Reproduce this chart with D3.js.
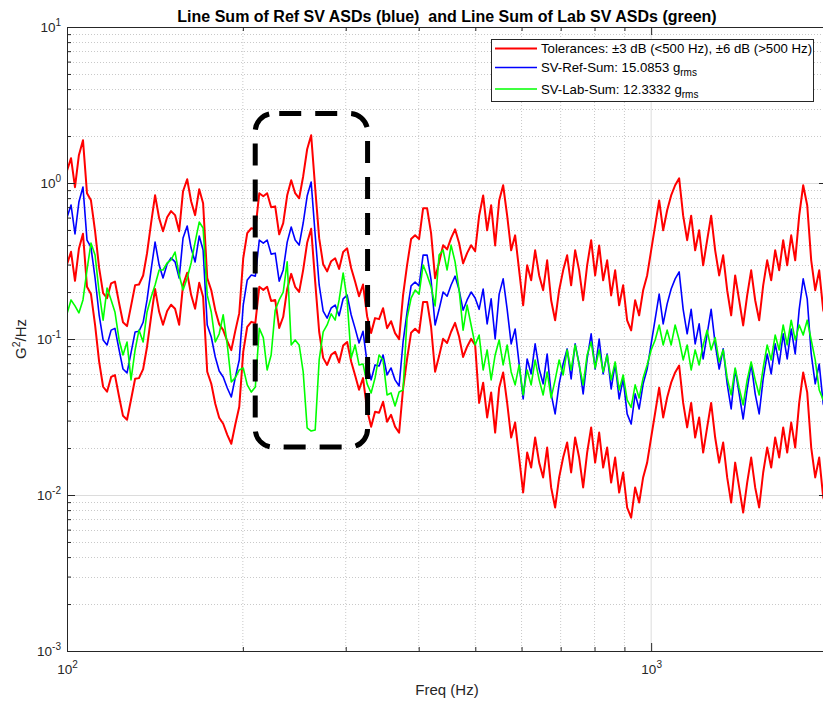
<!DOCTYPE html>
<html><head><meta charset="utf-8">
<script src="https://cdn.jsdelivr.net/npm/d3@7"></script>
<style>
body{margin:0;background:#fff;}
svg{display:block;font-family:"Liberation Sans",Arial,Helvetica,sans-serif;}
text{white-space:pre;}
</style>
</head><body><svg id="chart" width="823" height="701"></svg>
<script>
// ---- data ----
const freq = [
 100,101.6,103.2,104.8,106.5,108.2,109.9,111.7,113.5,115.3,
 117.1,119.0,120.8,122.8,124.7,126.7,128.7,130.8,132.8,135.0,
 137.1,139.3,141.5,143.8,146.0,148.4,150.7,153.1,155.6,158.0,
 160.6,163.1,165.7,168.4,171.0,173.8,176.6,179.4,182.2,185.1,
 188.1,191.1,194.1,197.2,200.3,203.5,206.8,210.1,213.4,216.8,
 220.1,223.6,227.2,230.8,234.5,238.2,242.0,245.8,249.7,253.7,
 257.7,261.8,266.0,270.2,274.5,278.8,283.3,287.8,292.3,297.0,
 301.7,306.5,311.3,316.2,321.2,326.4,331.6,336.8,342.2,347.6,
 353.1,358.7,364.4,370.3,376.1,382.1,388.2,394.4,400.6,407.0,
 413.5,420.0,426.7,433.5,440.4,447.4,454.5,461.7,469.1,476.5,
 484.1,491.8,499.7,507.6,515.7,523.9,532.2,540.7,549.3,558.0,
 566.9,575.9,585.0,594.3,603.8,613.4,623.1,633.0,643.1,653.3,
 663.7,674.2,684.9,695.8,706.9,718.1,729.5,741.1,752.9,764.9,
 777.0,789.4,801.9,814.7,827.6,840.8,854.1,867.7,881.5,895.5,
 909.7,924.2,938.9,953.8,968.9,984.3,1000,1015.9,1032.1,1048.5,
 1065.1,1082.0,1099.2,1116.7,1134.5,1152.5,1170.8,1189.4,1208.3,1227.5,
 1247.0,1266.8,1287.0,1307.5,1328.3,1349.4,1370.8,1392.6,1414.7,1437.2,
 1460.1,1483.3,1506.9,1530.8,1555.2,1579.9,1605.0,1630.5,1656.5,1682.8,
 1709.6,1736.8,1764.4,1792.4,1820.9,1849.9,1879.3,1909.2,1939.5,1970.4,
 2000
];
const refSum = [
 0.60,0.723,0.471,0.755,0.943,0.431,0.388,0.246,0.143,0.0986,
 0.0916,0.114,0.117,0.0851,0.0642,0.0606,0.0814,0.111,0.112,0.128,
 0.178,0.277,0.418,0.298,0.246,0.302,0.331,0.312,0.246,0.444,
 0.530,0.383,0.312,0.457,0.372,0.123,0.103,0.0767,0.0624,0.0571,
 0.0485,0.0425,0.0563,0.0734,0.165,0.239,0.257,0.253,0.431,0.412,
 0.431,0.350,0.355,0.235,0.277,0.418,0.522,0.431,0.400,0.554,
 0.825,1.015,0.464,0.222,0.151,0.136,0.158,0.165,0.141,0.181,
 0.191,0.143,0.117,0.0943,0.112,0.0702,0.0547,0.0682,0.0672,0.079,
 0.0588,0.0652,0.0547,0.0500,0.0957,0.149,0.219,0.232,0.219,0.345,
 0.345,0.239,0.123,0.155,0.200,0.188,0.222,0.253,0.206,0.153,
 0.178,0.200,0.183,0.155,0.209,0.125,0.181,0.100,0.194,0.243,
 0.155,0.093,0.116,0.0692,0.0413,0.0745,0.0597,0.093,0.0642,0.0516,
 0.0802,0.0445,0.0331,0.0516,0.0692,0.0864,0.0555,0.093,0.0692,0.0445,
 0.0745,0.108,0.0642,0.100,0.0597,0.0802,0.0478,0.0692,0.0413,0.0555,
 0.0331,0.0285,0.0445,0.0356,0.0516,0.0642,0.093,0.134,0.194,0.125,
 0.168,0.209,0.243,0.269,0.155,0.108,0.155,0.093,0.125,0.0745,
 0.108,0.155,0.093,0.0642,0.0864,0.0516,0.0356,0.0642,0.0445,0.0307,
 0.0478,0.0692,0.0445,0.0331,0.0555,0.0802,0.0597,0.093,0.0692,0.108,
 0.0745,0.116,0.0802,0.155,0.243,0.181,0.0802,0.0516,0.0692,0.0384,
 0.0331
];
const labSum = [
 0.145,0.178,0.163,0.147,0.178,0.277,0.412,0.345,0.200,0.132,
 0.212,0.178,0.149,0.0986,0.079,0.0957,0.0547,0.0851,0.114,0.0957,
 0.149,0.185,0.222,0.277,0.277,0.307,0.321,0.361,0.257,0.206,
 0.246,0.307,0.418,0.562,0.515,0.191,0.149,0.0957,0.108,0.143,
 0.0916,0.0531,0.0563,0.0633,0.0652,0.0508,0.0457,0.0493,0.117,0.102,
 0.0633,0.079,0.153,0.178,0.200,0.312,0.0916,0.0986,0.0916,0.0615,
 0.0269,0.0257,0.0261,0.0734,0.111,0.123,0.145,0.132,0.178,0.265,
 0.178,0.0756,0.0916,0.0682,0.0692,0.0516,0.0451,0.0563,0.079,0.0734,
 0.0438,0.0451,0.0372,0.0457,0.0471,0.136,0.183,0.206,0.194,0.298,
 0.257,0.216,0.163,0.345,0.372,0.277,0.400,0.312,0.206,0.114,
 0.165,0.123,0.0916,0.106,0.0633,0.0851,0.0547,0.079,0.0986,0.0682,
 0.0916,0.0615,0.0508,0.0682,0.0438,0.0633,0.0508,0.0734,0.0547,0.0438,
 0.0615,0.0419,0.0547,0.0734,0.0588,0.0851,0.0633,0.0916,0.0682,0.0508,
 0.079,0.0957,0.0652,0.0851,0.0615,0.079,0.0547,0.0713,0.0471,0.0588,
 0.0407,0.0364,0.0508,0.0419,0.0563,0.0682,0.0851,0.0986,0.123,0.0916,
 0.114,0.0916,0.123,0.0986,0.0734,0.0916,0.0633,0.0851,0.0682,0.0916,
 0.114,0.0851,0.102,0.0713,0.0851,0.0563,0.0438,0.0652,0.0485,0.0378,
 0.0547,0.0713,0.0547,0.0438,0.0652,0.0916,0.0734,0.106,0.0851,0.123,
 0.0916,0.132,0.0986,0.123,0.106,0.132,0.0986,0.0734,0.0471,0.0407,
 0.0378
];
// tolerance definition (from legend): +/-3 dB below 500 Hz, +/-6 dB above
const tolSplitHz = 500;
const tolDb = [3, 6];
const xDomain = [100, 2000];
const yDomain = [1e-3, 10];
const xMajor = [100, 1000];
const xMinor = [200,300,400,500,600,700,800,900,2000];
const yMajor = [1e-3, 1e-2, 1e-1, 1, 10];
const yMinorMult = [2,3,4,5,6,7,8,9];
const titleText = "Line Sum of Ref SV ASDs (blue)  and Line Sum of Lab SV ASDs (green)";
const xLabel = "Freq (Hz)";
const legendLabels = [
  {color:"#ff0000", text:"Tolerances: \u00b13 dB (<500 Hz), \u00b16 dB (>500 Hz)", sub:""},
  {color:"#0000ff", text:"SV-Ref-Sum: 15.0853 g", sub:"rms"},
  {color:"#00ff00", text:"SV-Lab-Sum: 12.3332 g", sub:"rms"}
];
const highlightBox = {f0:210, f1:327, vLow:0.0203, vHigh:2.79};

// ---- drawing ----
const svg = d3.select("#chart");
const W = 823, H = 701;
const m = {left:67, top:27, right:827, bottom:651};
const axisColor = "#262626";
svg.append("rect").attr("width", W).attr("height", H).attr("fill", "#fff");

const x = d3.scaleLog().domain(xDomain).range([m.left, m.right]);
const y = d3.scaleLog().domain(yDomain).range([m.bottom, m.top]);

const yMinor = [];
yMajor.slice(0, -1).forEach(d => yMinorMult.forEach(k => yMinor.push(d * k)));

// grid
const grid = svg.append("g");
grid.selectAll(".gxm").data(xMinor).join("line")
  .attr("x1", d => x(d)).attr("x2", d => x(d)).attr("y1", m.top).attr("y2", m.bottom)
  .attr("stroke", "#c9c9c9").attr("stroke-width", 1).attr("stroke-dasharray", "1,2");
grid.selectAll(".gym").data(yMinor).join("line")
  .attr("x1", m.left).attr("x2", m.right).attr("y1", d => Math.round(y(d)) + 0.5).attr("y2", d => Math.round(y(d)) + 0.5)
  .attr("stroke", "#c9c9c9").attr("stroke-width", 1).attr("stroke-dasharray", "1,2");
grid.selectAll(".gxM").data(xMajor.slice(1)).join("line")
  .attr("x1", d => x(d)).attr("x2", d => x(d)).attr("y1", m.top).attr("y2", m.bottom)
  .attr("stroke", "#dcdcdc").attr("stroke-width", 1);
grid.selectAll(".gyM").data(yMajor.slice(1, -1)).join("line")
  .attr("x1", m.left).attr("x2", m.right).attr("y1", d => Math.round(y(d)) + 0.5).attr("y2", d => Math.round(y(d)) + 0.5)
  .attr("stroke", "#dcdcdc").attr("stroke-width", 1);

// data lines
svg.append("clipPath").attr("id", "clip").append("rect")
  .attr("x", m.left).attr("y", m.top).attr("width", m.right - m.left).attr("height", m.bottom - m.top);
const rows = freq.map((f, i) => {
  const db = f < tolSplitHz ? tolDb[0] : tolDb[1];
  const fac = Math.pow(10, db / 10);
  return {f, ref: refSum[i], lab: labSum[i], hi: refSum[i] * fac, lo: refSum[i] / fac};
});
const plot = svg.append("g").attr("clip-path", "url(#clip)");
const mk = key => d3.line().x(d => x(d.f)).y(d => y(d[key]));
const drawLine = (key, color, w) => plot.append("path").datum(rows)
  .attr("d", mk(key)).attr("fill", "none").attr("stroke", color)
  .attr("stroke-width", w).attr("stroke-linejoin", "round");
drawLine("hi", "#ff0000", 2);
drawLine("lo", "#ff0000", 2);
drawLine("ref", "#0000ff", 1.6);
drawLine("lab", "#00ff00", 1.6);

// axes
const supLabel = function(d) {
  const t = d3.select(this);
  t.text(null);
  t.append("tspan").text("10");
  t.append("tspan").attr("dy", -6).attr("font-size", 10).text(Math.round(Math.log10(d)));
};
const styleAxis = g => {
  g.select(".domain").attr("stroke", axisColor).attr("stroke-width", 1);
  g.selectAll(".tick line").attr("stroke", axisColor);
  g.selectAll(".tick text").attr("fill", axisColor).attr("font-size", 13.5)
    .attr("font-family", "'Liberation Sans',Arial,sans-serif");
};
svg.append("g").attr("transform", `translate(0,${m.bottom})`)
  .call(d3.axisBottom(x).tickValues(xMajor).tickSizeInner(-8).tickSizeOuter(0).tickPadding(13))
  .call(styleAxis).call(g => g.selectAll(".tick text").each(supLabel));
svg.append("g").attr("transform", `translate(0,${m.bottom})`)
  .call(d3.axisBottom(x).tickValues(xMinor).tickSizeInner(-4).tickSizeOuter(0).tickFormat(""))
  .call(styleAxis);
svg.append("g").attr("transform", `translate(0,${m.top})`)
  .call(d3.axisTop(x).tickValues(xMajor).tickSizeInner(-8).tickSizeOuter(0).tickFormat(""))
  .call(styleAxis);
svg.append("g").attr("transform", `translate(0,${m.top})`)
  .call(d3.axisTop(x).tickValues(xMinor).tickSizeInner(-4).tickSizeOuter(0).tickFormat(""))
  .call(styleAxis);
svg.append("g").attr("transform", `translate(${m.left},0)`)
  .call(d3.axisLeft(y).tickValues(yMajor).tickSizeInner(-8).tickSizeOuter(0).tickPadding(6))
  .call(styleAxis).call(g => g.selectAll(".tick text").each(supLabel));
svg.append("g").attr("transform", `translate(${m.left},0)`)
  .call(d3.axisLeft(y).tickValues(yMinor).tickSizeInner(-4).tickSizeOuter(0).tickFormat(""))
  .call(styleAxis);
svg.append("g").attr("transform", `translate(${m.right},0)`)
  .call(d3.axisRight(y).tickValues(yMajor).tickSizeInner(-8).tickSizeOuter(0).tickFormat(""))
  .call(styleAxis);

// highlight dashed rounded box
svg.append("rect")
  .attr("x", x(highlightBox.f0)).attr("y", y(highlightBox.vHigh))
  .attr("width", x(highlightBox.f1) - x(highlightBox.f0))
  .attr("height", y(highlightBox.vLow) - y(highlightBox.vHigh))
  .attr("rx", 18).attr("ry", 18)
  .attr("fill", "none").attr("stroke", "#000").attr("stroke-width", 5)
  .attr("stroke-dasharray", "22,14").attr("stroke-dashoffset", -6);

// title & labels
svg.append("text").attr("x", (m.left + m.right) / 2).attr("y", 22)
  .attr("text-anchor", "middle").attr("font-weight", "bold").attr("font-size", 16)
  .attr("fill", "#000").text(titleText);
svg.append("text").attr("x", (m.left + m.right) / 2).attr("y", 695)
  .attr("text-anchor", "middle").attr("font-size", 15).attr("fill", axisColor).text(xLabel);
const yl = svg.append("text").attr("transform", `translate(26,${(m.top + m.bottom) / 2}) rotate(-90)`)
  .attr("text-anchor", "middle").attr("font-size", 15).attr("fill", axisColor);
yl.append("tspan").text("G");
yl.append("tspan").attr("dy", -6).attr("font-size", 10.5).text("2");
yl.append("tspan").attr("dy", 6).text("/Hz");

// legend
const lg = svg.append("g");
lg.append("rect").attr("x", 491.5).attr("y", 39.5).attr("width", 322).attr("height", 62)
  .attr("fill", "#fff").attr("stroke", axisColor).attr("stroke-width", 1);
const legY = [48.5, 67.5, 89];
legendLabels.forEach((d, i) => {
  lg.append("line").attr("x1", 495).attr("x2", 537).attr("y1", legY[i]).attr("y2", legY[i])
    .attr("stroke", d.color).attr("stroke-width", i === 0 ? 2 : 1.6);
  const t = lg.append("text").attr("x", 541).attr("y", legY[i] + 4.5)
    .attr("font-size", 13.2).attr("fill", "#000");
  t.append("tspan").text(d.text);
  if (d.sub) t.append("tspan").attr("dy", 4).attr("font-size", 10).text(d.sub);
});
</script>
</body></html>
